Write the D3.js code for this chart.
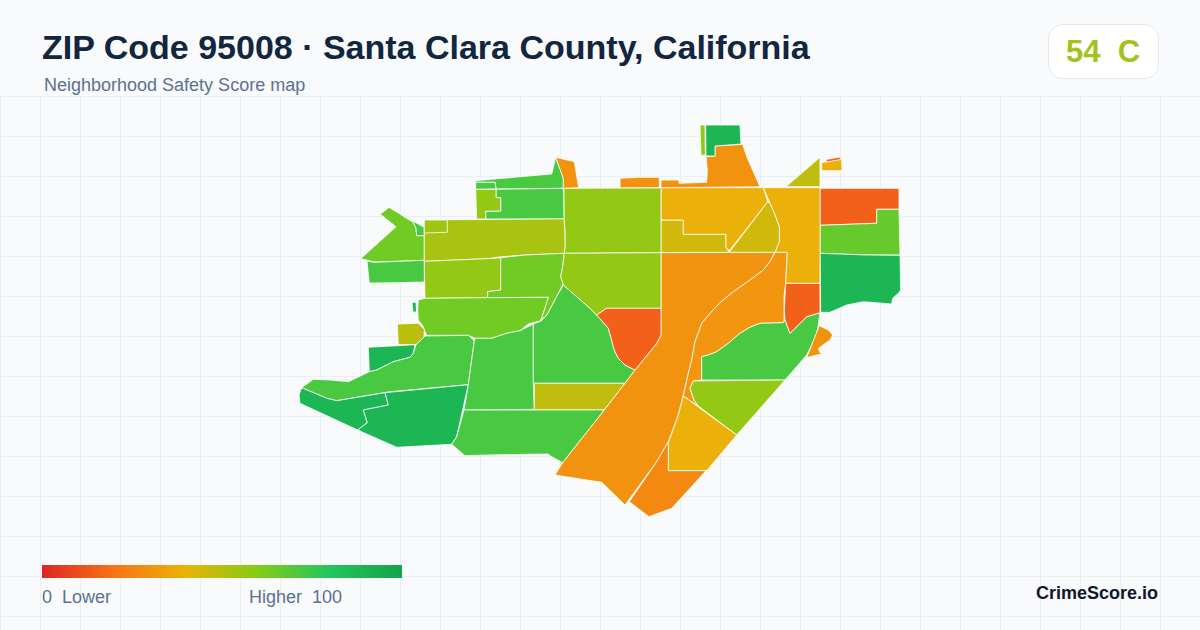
<!DOCTYPE html>
<html><head><meta charset="utf-8">
<script src="https://cdn.jsdelivr.net/npm/d3@7/dist/d3.min.js"></script>
<style>html,body{margin:0;padding:0;background:#f8fafc;overflow:hidden}svg{display:block}text{font-family:"Liberation Sans",Arial,sans-serif;white-space:pre}</style>
</head><body><svg id="c" width="1200" height="630"></svg>
<script>
const titleText = "ZIP Code 95008 · Santa Clara County, California";
const subtitleText = "Neighborhood Safety Score map";
const overallScore = 54, overallGrade = "C";
const legendDomain = [0, 20, 40, 60, 80, 100];
const legendColors = ["#dc2626", "#f97316", "#eab308", "#84cc16", "#22c55e", "#16a34a"];
const mapExtent = [600, 400]; // map units, east / south

const tractScores = [
 64,72,72,53,55,57,64,64,
 89,49,89,72,89,89,72,72,
 48,72,30,31,72,15,57,39,
 27,30,15,66,89,39,45,45,
 39,30,30,89,58,48,39,15,57,
 57,15,72,30,72,72,57];
const tractRings = [
 [[80.3,94.3],[89,87.3],[101.7,95],[113.3,102.3],[116,108.3],[116.7,115.7],[124.3,115.7],[124.3,140.3],[75,142],[60.7,138.7],[96,106.7]],
 [[101.7,95],[124.3,107.3],[124.3,115.7],[116.7,115.7],[116,108.3],[113.3,102.3]],
 [[67,141.3],[75,142.3],[124.3,140.3],[124.3,162],[96.7,162.7],[69.3,163]],
 [[124.3,100],[264,98.7],[265,110],[265.3,126.7],[264.3,133.3],[225.3,135],[201.7,136.7],[186.7,138.7],[124.3,141.3]],
 [[124.3,100],[147.3,100],[147.3,112.3],[124.3,113]],
 [[124.3,141.3],[186.7,138.7],[200.7,137.7],[200.7,170],[187.7,171.7],[187.7,177.7],[125,178.3]],
 [[200.7,137.7],[225.3,135],[264.3,133.3],[262.7,146.7],[260.7,156.7],[263.3,163.3],[256.7,176.7],[246.7,195],[240.7,200.7],[248.3,177.3],[187.7,177.7],[187.7,171.7],[200.7,170]],
 [[118.3,180],[125,178.3],[187.7,177.7],[248.3,177.3],[240.7,200.7],[228.3,204],[220,210.7],[206.7,213.3],[191.7,218.3],[175,218.3],[168.3,215.3],[126.7,215.3],[124.3,210],[123.3,206.7],[118.3,200],[117.7,190]],
 [[112,182.3],[116,182.3],[116.5,192],[113,192]],
 [[97.3,204],[118.3,203.3],[124.3,209.3],[124,217.3],[116,224.7],[98.3,224.7]],
 [[68.3,227.3],[115,224.7],[113.3,233.3],[110,237.3],[93.3,241.7],[76.7,250],[69.3,251.7]],
 [[1.7,267.7],[13.3,259.3],[30,260],[48.3,261.7],[69.3,251.7],[76.7,250],[93.3,241.7],[110,237.3],[113.3,233.3],[116,224.7],[125,216],[168.3,215.3],[174.3,220.7],[168.3,264.7],[90,271.7],[36.7,280.7],[26.7,278.3]],
 [[1.7,267.7],[26.7,278.3],[36.7,280.7],[85,272.7],[88.3,285],[63.3,290],[67.3,302.7],[57.7,310],[0,283.3],[-1,275]],
 [[85,272.7],[168.3,264.7],[156.7,316.7],[151.7,324.3],[96.7,327.3],[57.7,310],[67.3,302.7],[63.3,290],[88.3,285]],
 [[174.3,220.7],[175,218.3],[191.7,218.3],[206.7,213.3],[220,210.7],[233.3,204],[233.3,263.3],[234.3,289.3],[164,290],[168.3,264.7]],
 [[263.3,165],[290,188.3],[296.7,195],[308.3,208.3],[310.7,216.7],[313.3,226.7],[315,231.7],[318.3,238.3],[325,245],[335,250],[325,263.3],[233.3,263.3],[233.3,204],[241,201],[247,195],[256.7,176.7]],
 [[234.3,263.3],[325,263.3],[304.3,290],[234.3,290]],
 [[164,290],[304.3,290],[262.7,342.7],[250,335.7],[248.3,334],[227.3,334.3],[186.7,335],[165,335.7],[151.7,324.3],[156.7,316.7]],
 [[255,355],[301.7,362.3],[325,385],[356.7,341.7],[368.3,321.7],[378.3,295],[383.3,275],[388.3,253.3],[391.7,240],[395,221.7],[401.7,203.3],[410,193.3],[420,182.7],[433.3,171.7],[450,160],[463.3,150],[470,141.7],[475,132.3],[361,132.7],[361,215],[356.7,223.3],[335,250],[325,263.3],[304.3,290],[262.7,342.7]],
 [[383.3,276],[388.3,253.3],[391.7,240],[395,221.7],[401.7,203.3],[410,193.3],[420,182.7],[433.3,171.7],[450,160],[463.3,150],[470,141.7],[475,132.3],[487.3,132.3],[485.7,163.3],[484,176.7],[484,202.7],[460,203.3],[450,207.3],[440,213.3],[428.3,223.3],[416.7,231.7],[408.3,235],[401.7,236.7],[401.7,260],[393.3,261],[390,268.3],[394,280],[398.3,286]],
 [[401.7,236.7],[408.3,235],[416.7,231.7],[428.3,223.3],[440,213.3],[450,207.3],[460,203.3],[483.3,202.7],[485,200],[490,213.3],[495,208.3],[506.7,196.7],[520,192.7],[518.3,205],[516.7,213.3],[511.7,225],[506.7,235],[485,260],[401.7,260]],
 [[485.7,163.3],[520,163.3],[520,192.7],[506.7,196.7],[495,208.3],[490,213.3],[485,200],[484.3,190]],
 [[393.3,261],[485,260],[436.7,315],[398.3,286],[394,280],[390,268.3]],
 [[383.3,276],[436.7,315],[406.7,350.7],[368.3,350.7],[368.3,323],[378.3,295]],
 [[368.3,321.7],[368.3,350.7],[406,350.7],[371.7,388.3],[349,396.7],[329.3,381.7],[356.7,341.7]],
 [[519.3,205.7],[528.3,210],[532.7,215],[530,220],[518.3,228.3],[520,233],[525,234],[516.7,235],[506.7,237.7],[511.7,225]],
 [[520,68.3],[599,68.3],[599,89.3],[576.7,89.3],[576.7,103.3],[520,105.3]],
 [[520,105.3],[576.7,103.3],[576.7,89.3],[599,89.3],[600,135],[566.7,135],[520,133.3]],
 [[520,133.3],[566.7,135],[600,135.3],[600.7,170],[598.3,173.3],[592.7,178.3],[591.7,184],[563.3,181.7],[546.7,185],[530,192.3],[520.7,192.3]],
 [[463.3,67.7],[520,67.7],[520,163.3],[485.7,163.3],[487.3,132.3],[475,132.3],[479.3,121.7],[479.3,106.7],[475,95],[470,83.3]],
 [[467.7,81.7],[470,83.3],[475,95],[479.3,106.7],[479.3,121.7],[475,132.3],[429.3,132.3]],
 [[361,100],[383.3,100],[383.3,114.3],[426,114.3],[426,127.7],[429.3,132.3],[361,132.5]],
 [[361,67.7],[463.3,67.7],[467.7,81.7],[429.3,130.7],[426,127.7],[426,114.3],[383.3,114.3],[383.3,100],[361,100]],
 [[406,36.7],[415,36],[415,26],[442.7,24.3],[446.7,36.7],[460,66.7],[410,67.3],[361,67.7],[361,60],[379,60],[379,63.3],[406.7,62.3],[407.3,50]],
 [[320,58.3],[338.3,57.3],[359.3,57.3],[359.3,67.7],[320,68]],
 [[405.7,5],[440,5],[441,24],[415,26],[415,36],[406,36]],
 [[400,5],[405,5],[405.3,35.3],[401,35.3]],
 [[520,37.3],[520,66.7],[486,66.7]],
 [[521.7,42.7],[541.7,38.3],[542,50.7],[521.7,50.7]],
 [[526,39.5],[540.5,37],[541,39.5],[526.5,42]],
 [[264,68.3],[361,68],[361,132.7],[264.3,133.3],[265.3,126.7],[265,110],[264,98.7]],
 [[264.3,133.3],[361,132.7],[361,188.3],[306.7,188.3],[296.7,195],[290,188.3],[263.3,165],[260.7,156.7],[262.7,146.7]],
 [[306.7,188.3],[361,188.3],[361,215],[356.7,223.3],[335,250],[325,245],[318.3,238.3],[315,231.7],[313.3,226.7],[310.7,216.7],[308.3,208.3],[296.7,195]],
 [[175,60.7],[251.7,54],[255.7,37.3],[263.3,58.3],[263.3,68.3],[196,69],[195,62.3],[175.7,62.3]],
 [[255.7,37.3],[274.3,41.7],[278.7,67.7],[263.3,68.3],[263.3,58.3]],
 [[175.7,62.3],[195,62.3],[196,69],[175.7,69.3]],
 [[196,69.3],[263.3,68.3],[264,98.7],[185.7,99],[185.7,91.3],[200.7,91],[200.7,77.7],[196,77.7]],
 [[175.7,69.3],[196,69.3],[196,77.7],[200.7,77.7],[200.7,91],[185.7,91.3],[185.7,99],[176.7,99]]
];

const W = 1200, H = 630;
const svg = d3.select("#c");
const color = d3.scaleLinear().domain(legendDomain).range(legendColors).interpolate(d3.interpolateRgb);

// background + grid
svg.append("rect").attr("width", W).attr("height", H).attr("fill", "#f8fafc");
const gridG = svg.append("g").attr("stroke", "#e8f0f3").attr("stroke-width", 1);
gridG.selectAll("line.v").data(d3.range(0, W, 40)).join("line").attr("class","v")
  .attr("x1", d => d + .5).attr("x2", d => d + .5).attr("y1", 96).attr("y2", H);
gridG.selectAll("line.h").data(d3.range(96, H, 40)).join("line").attr("class","h")
  .attr("x1", 0).attr("x2", W).attr("y1", d => d + .5).attr("y2", d => d + .5);

// map
const x = d3.scaleLinear().domain([0, mapExtent[0]]).range([300, 900]);
const y = d3.scaleLinear().domain([0, mapExtent[1]]).range([120, 520]);
const project = d3.geoTransform({ point(a, b) { this.stream.point(x(a), y(b)); } });
const path = d3.geoPath(project);
const features = tractRings.map((ring, i) => ({
  type: "Feature", properties: { score: tractScores[i] },
  geometry: { type: "Polygon", coordinates: [[...ring, ring[0]]] }
}));
svg.append("g").selectAll("path").data(features).join("path")
  .attr("d", path).attr("fill", d => color(d.properties.score))
  .attr("stroke", "#fff").attr("stroke-width", 0.8).attr("stroke-linejoin", "round");

// heading
svg.append("text").attr("x", 42).attr("y", 59).attr("font-size", 34).attr("font-weight", 700).attr("fill", "#12263f").text(titleText);
svg.append("text").attr("x", 44).attr("y", 91).attr("font-size", 18).attr("fill", "#5b7290").text(subtitleText);

// badge
svg.append("rect").attr("x", 1048.5).attr("y", 24.5).attr("width", 110).attr("height", 54).attr("rx", 14)
  .attr("fill", "#ffffff").attr("stroke", "#e2e8f0");
svg.append("text").attr("x", 1103).attr("y", 62).attr("text-anchor", "middle").attr("font-size", 31).attr("font-weight", 700)
  .attr("fill", "#a3c31c").text(overallScore + "  " + overallGrade);

// legend
const defs = svg.append("defs");
const lg = defs.append("linearGradient").attr("id", "lg");
lg.selectAll("stop").data(legendDomain).join("stop")
  .attr("offset", d => d + "%").attr("stop-color", d => color(d));
const lx = d3.scaleLinear().domain([0, 100]).range([42, 402]);
svg.append("rect").attr("x", lx(0)).attr("y", 565).attr("width", lx(100) - lx(0)).attr("height", 13).attr("fill", "url(#lg)");
svg.append("text").attr("x", lx(0)).attr("y", 603).attr("font-size", 18).attr("fill", "#5b7290").text("0  Lower");
svg.append("text").attr("x", 342).attr("y", 603).attr("text-anchor", "end").attr("font-size", 18).attr("fill", "#5b7290").text("Higher  100");
svg.append("text").attr("x", 1158).attr("y", 599).attr("text-anchor", "end").attr("font-size", 18).attr("font-weight", 700).attr("fill", "#0f172a").text("CrimeScore.io");
</script></body></html>
